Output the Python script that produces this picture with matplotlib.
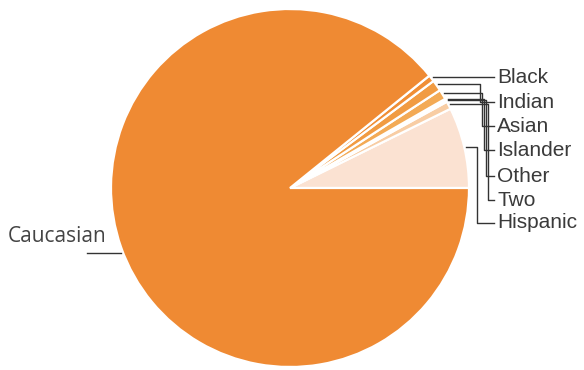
import numpy as np
import matplotlib.pyplot as plt

# share of population (%), counter-clockwise from 3 o'clock
groups = ['Hispanic', 'Two', 'Other', 'Islander', 'Asian', 'Indian', 'Black', 'Caucasian']
shares = [7.3, 0.7, 0.1, 0.2, 0.9, 1.0, 0.6, 89.2]
colors = ['#fbe2d2', '#f8cda4', '#f6c08a', '#f5b673', '#f3aa55', '#f19b42', '#f08e35', '#ef8a33']

# label rows on the right, top to bottom (pixel y), and x of each elbow
right_labels = ['Black', 'Indian', 'Asian', 'Islander', 'Other', 'Two', 'Hispanic']
label_y = [78, 102, 126, 150, 176, 200, 223]
elbow_x = [478, 480, 482, 484, 486, 488, 477]

H = 370
cx, cy, R = 290, H - 188, 179

fig = plt.figure(figsize=(5.84, 3.7), dpi=100)
ax = fig.add_axes([0, 0, 1, 1])
wedges, _ = ax.pie(shares, colors=colors, startangle=0, counterclock=True,
                   center=(cx, cy), radius=R,
                   wedgeprops=dict(edgecolor='white', linewidth=1.6))
ax.set_xlim(0, 584)
ax.set_ylim(0, H)
ax.set_aspect('equal')
ax.axis('off')

line_c = '#333333'
for name, ly, ex in zip(right_labels, label_y, elbow_x):
    w = wedges[groups.index(name)]
    mid = np.deg2rad((w.theta1 + w.theta2) / 2)
    x0 = cx + (R + 2) * np.cos(mid)
    y0 = cy + (R + 2) * np.sin(mid)
    y1 = H - ly
    if name == 'Black':
        ax.plot([x0, 494], [y0, y0], color=line_c, lw=1.0)
        y1 = y0
    else:
        ax.plot([x0, ex, ex, 494], [y0, y0, y1, y1], color=line_c, lw=1.0)
    ax.text(497, y1, name, fontsize=15, family='Liberation Sans',
            color='#3a3a3a', va='center', ha='left')

# Caucasian on the left
ax.plot([87, 121], [H - 253, H - 253], color=line_c, lw=1.0)
ax.text(8, H - 237, 'Caucasian', fontsize=15, family='Open Sans',
        color='#444444', va='center', ha='left')

fig.savefig('out.png', dpi=100)
